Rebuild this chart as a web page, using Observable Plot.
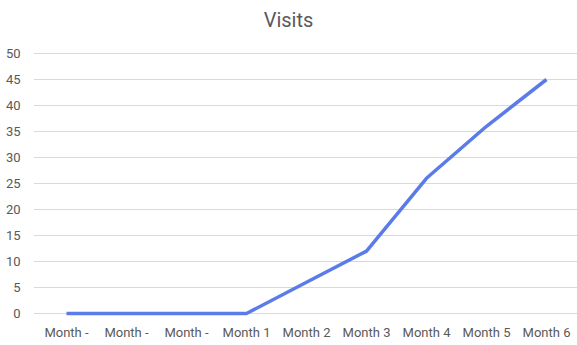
<!DOCTYPE html>
<html>
<head>
<meta charset="utf-8">
<script src="https://cdn.jsdelivr.net/npm/d3@7"></script>
<script src="https://cdn.jsdelivr.net/npm/@observablehq/plot@0.6"></script>
<style>
  body { margin: 0; background: #fff; }
  #title { height: 40px; text-align: center; font-family: Roboto, "Noto Sans", sans-serif; font-size: 20px; color: #595959; line-height: 40px; width: 577px; }
</style>
</head>
<body>
<div id="title">Visits</div>
<div id="chart"></div>
<script>
const categories = ["Month -", "Month -", "Month -", "Month 1", "Month 2", "Month 3", "Month 4", "Month 5", "Month 6"];
const visits = [0, 0, 0, 0, 6, 12, 26, 36, 45];
const yTicks = [0, 5, 10, 15, 20, 25, 30, 35, 40, 45, 50];

const data = categories.map((c, i) => ({i, label: c, value: visits[i]}));

const chart = Plot.plot({
  width: 577,
  height: 305,
  marginTop: 13,
  marginBottom: 32,
  marginLeft: 34,
  marginRight: 0,
  style: {fontFamily: "Roboto, 'Noto Sans', sans-serif", fontSize: "13px", color: "#595959", background: "#fff"},
  x: {type: "point", domain: d3.range(categories.length), padding: 0.5, label: null},
  y: {domain: [0, 50], label: null},
  marks: [
    Plot.ruleY(yTicks, {stroke: "#d9d9d9", strokeWidth: 1}),
    Plot.axisY(yTicks, {tickSize: 0, tickPadding: 14, fontSize: 13, fill: "#595959"}),
    Plot.axisX(d3.range(categories.length), {tickSize: 0, tickPadding: 14, tickFormat: i => categories[i], fontSize: 13, fill: "#595959"}),
    Plot.line(data, {x: "i", y: "value", stroke: "#5b7be9", strokeWidth: 3.5, strokeLinejoin: "round", strokeLinecap: "butt"})
  ]
});
document.getElementById("chart").appendChild(chart);
</script>
</body>
</html>
